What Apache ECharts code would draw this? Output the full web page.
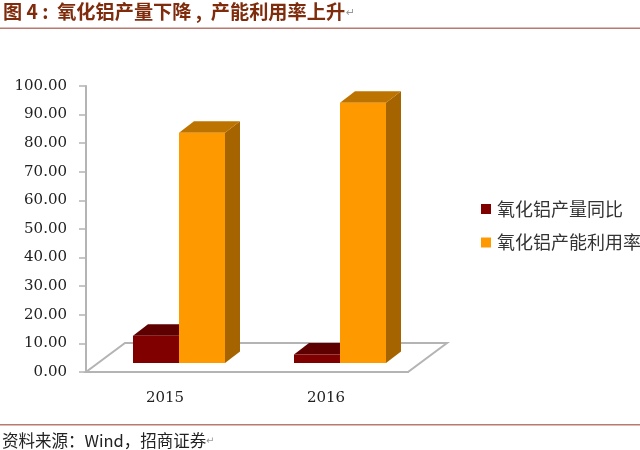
<!DOCTYPE html>
<html>
<head>
<meta charset="utf-8">
<title>氧化铝产量下降</title>
<style>
html,body{margin:0;padding:0;background:#fff;}
#main{width:640px;height:450px;}
</style>
<script src="https://cdn.jsdelivr.net/npm/echarts@6/dist/echarts.min.js"></script>
</head>
<body>
<div id="main"></div>
<script>
// 数据
var categories = ["2015", "2016"];
var outputYoy = [9.5, 3.0];        // 氧化铝产量同比
var capacityUse = [80.5, 91.0];    // 氧化铝产能利用率
var yTicks = {min: 0, max: 100, step: 10};

// 柱子的立体效果用到的尺寸
var barW = 46;
var barShiftX = 12.5;   // 柱子正面相对坐标轴平面的偏移
var barShiftY = -9;
var sideX = 15;
var sideY = -11.5;
var floorX = 39;
var floorY = -29;

var CJK = '"Noto Sans CJK SC"';
var myChart = echarts.init(document.getElementById("main"));

// seat: -1 左边的柱子, 0 右边的柱子
function bar3d(seat, front, top, side) {
    return function (params, api) {
        var base = api.coord([api.value(0), 0]);
        var head = api.coord([api.value(0), api.value(1)]);
        var x0 = base[0] + barShiftX + seat * barW;
        var x1 = x0 + barW;
        var y0 = base[1] + barShiftY;
        var y1 = head[1] + barShiftY;
        return {
            type: "group",
            children: [
                {type: "polygon", shape: {points: [[x1, y0], [x1 + sideX, y0 + sideY], [x1 + sideX, y1 + sideY], [x1, y1]]}, style: {fill: side}},
                {type: "polygon", shape: {points: [[x0, y1], [x1, y1], [x1 + sideX, y1 + sideY], [x0 + sideX, y1 + sideY]]}, style: {fill: top}},
                {type: "rect", shape: {x: x0, y: y1, width: barW, height: y0 - y1}, style: {fill: front}}
            ]
        };
    };
}

// 地板
function floorItem(params) {
    var r = params.coordSys;
    var b = r.y + r.height;
    return {
        type: "polygon",
        shape: {points: [[r.x, b], [r.x + r.width, b], [r.x + r.width + floorX, b + floorY], [r.x + floorX, b + floorY]]},
        style: {fill: "#fff", stroke: "#b4b4b4", lineWidth: 2}
    };
}

function toPairs(values) {
    return values.map(function (v, i) {
        return [i, v];
    });
}

var option = {
    backgroundColor: "#fff",
    animation: false,
    grid: {left: 86, top: 86, width: 322, height: 286},
    legend: {
        orient: "vertical",
        left: 476,
        top: 195,
        itemWidth: 10,
        itemHeight: 10,
        itemGap: 15.5,
        icon: "rect",
        selectedMode: false,
        textStyle: {fontFamily: CJK, fontSize: 18, color: "#333", padding: [0, 0, 0, 1]},
        data: ["氧化铝产量同比", "氧化铝产能利用率"]
    },
    xAxis: {
        type: "category",
        data: categories,
        axisLine: {lineStyle: {color: "#b4b4b4", width: 2}},
        axisTick: {length: 6, lineStyle: {color: "#b4b4b4", width: 1.5}},
        axisLabel: {margin: 19, fontFamily: "DejaVu Serif", fontSize: 15, color: "#222", padding: [0, 3, 0, 0]}
    },
    yAxis: {
        type: "value",
        min: yTicks.min,
        max: yTicks.max,
        interval: yTicks.step,
        splitLine: {show: false},
        axisLine: {show: true, lineStyle: {color: "#b4b4b4", width: 2}},
        axisTick: {show: true, length: 7, lineStyle: {color: "#b4b4b4", width: 1.5}},
        axisLabel: {
            margin: 19,
            fontFamily: "DejaVu Serif",
            fontSize: 15,
            color: "#222",
            padding: [9, 0, 0, 0],
            formatter: function (v) {
                return v.toFixed(2);
            }
        }
    },
    graphic: [
        {type: "text", left: 3, top: 2, style: {text: "图 4 :  氧化铝产量下降 ,  产能利用率上升", font: "bold 19.2px " + CJK, fill: "#7f2c0c"}},
        {type: "text", left: 346, top: 8, style: {text: "↵", font: "11px DejaVu Sans", fill: "#999"}},
        {type: "rect", shape: {x: 0, y: 27.5, width: 640, height: 1.5}, style: {fill: "#b87a70"}},
        {type: "rect", shape: {x: 0, y: 424, width: 640, height: 1.5}, style: {fill: "#b87a70"}},
        {type: "text", left: 2, top: 432, style: {text: "资料来源：Wind，招商证券", font: "16.5px " + CJK, fill: "#222"}},
        {type: "text", left: 206, top: 436, style: {text: "↵", font: "10px DejaVu Sans", fill: "#999"}}
    ],
    series: [
        {name: "floor", type: "custom", silent: true, z: 1, data: [[0, 0]], renderItem: floorItem},
        {
            name: "氧化铝产量同比",
            type: "custom",
            z: 2,
            itemStyle: {color: "#800000"},
            data: toPairs(outputYoy),
            renderItem: bar3d(-1, "#800000", "#5e0000", "#5e0000")
        },
        {
            name: "氧化铝产能利用率",
            type: "custom",
            z: 3,
            itemStyle: {color: "#ff9900"},
            data: toPairs(capacityUse),
            renderItem: bar3d(0, "#ff9900", "#bd7300", "#a66400")
        }
    ]
};

myChart.setOption(option);
</script>
</body>
</html>
